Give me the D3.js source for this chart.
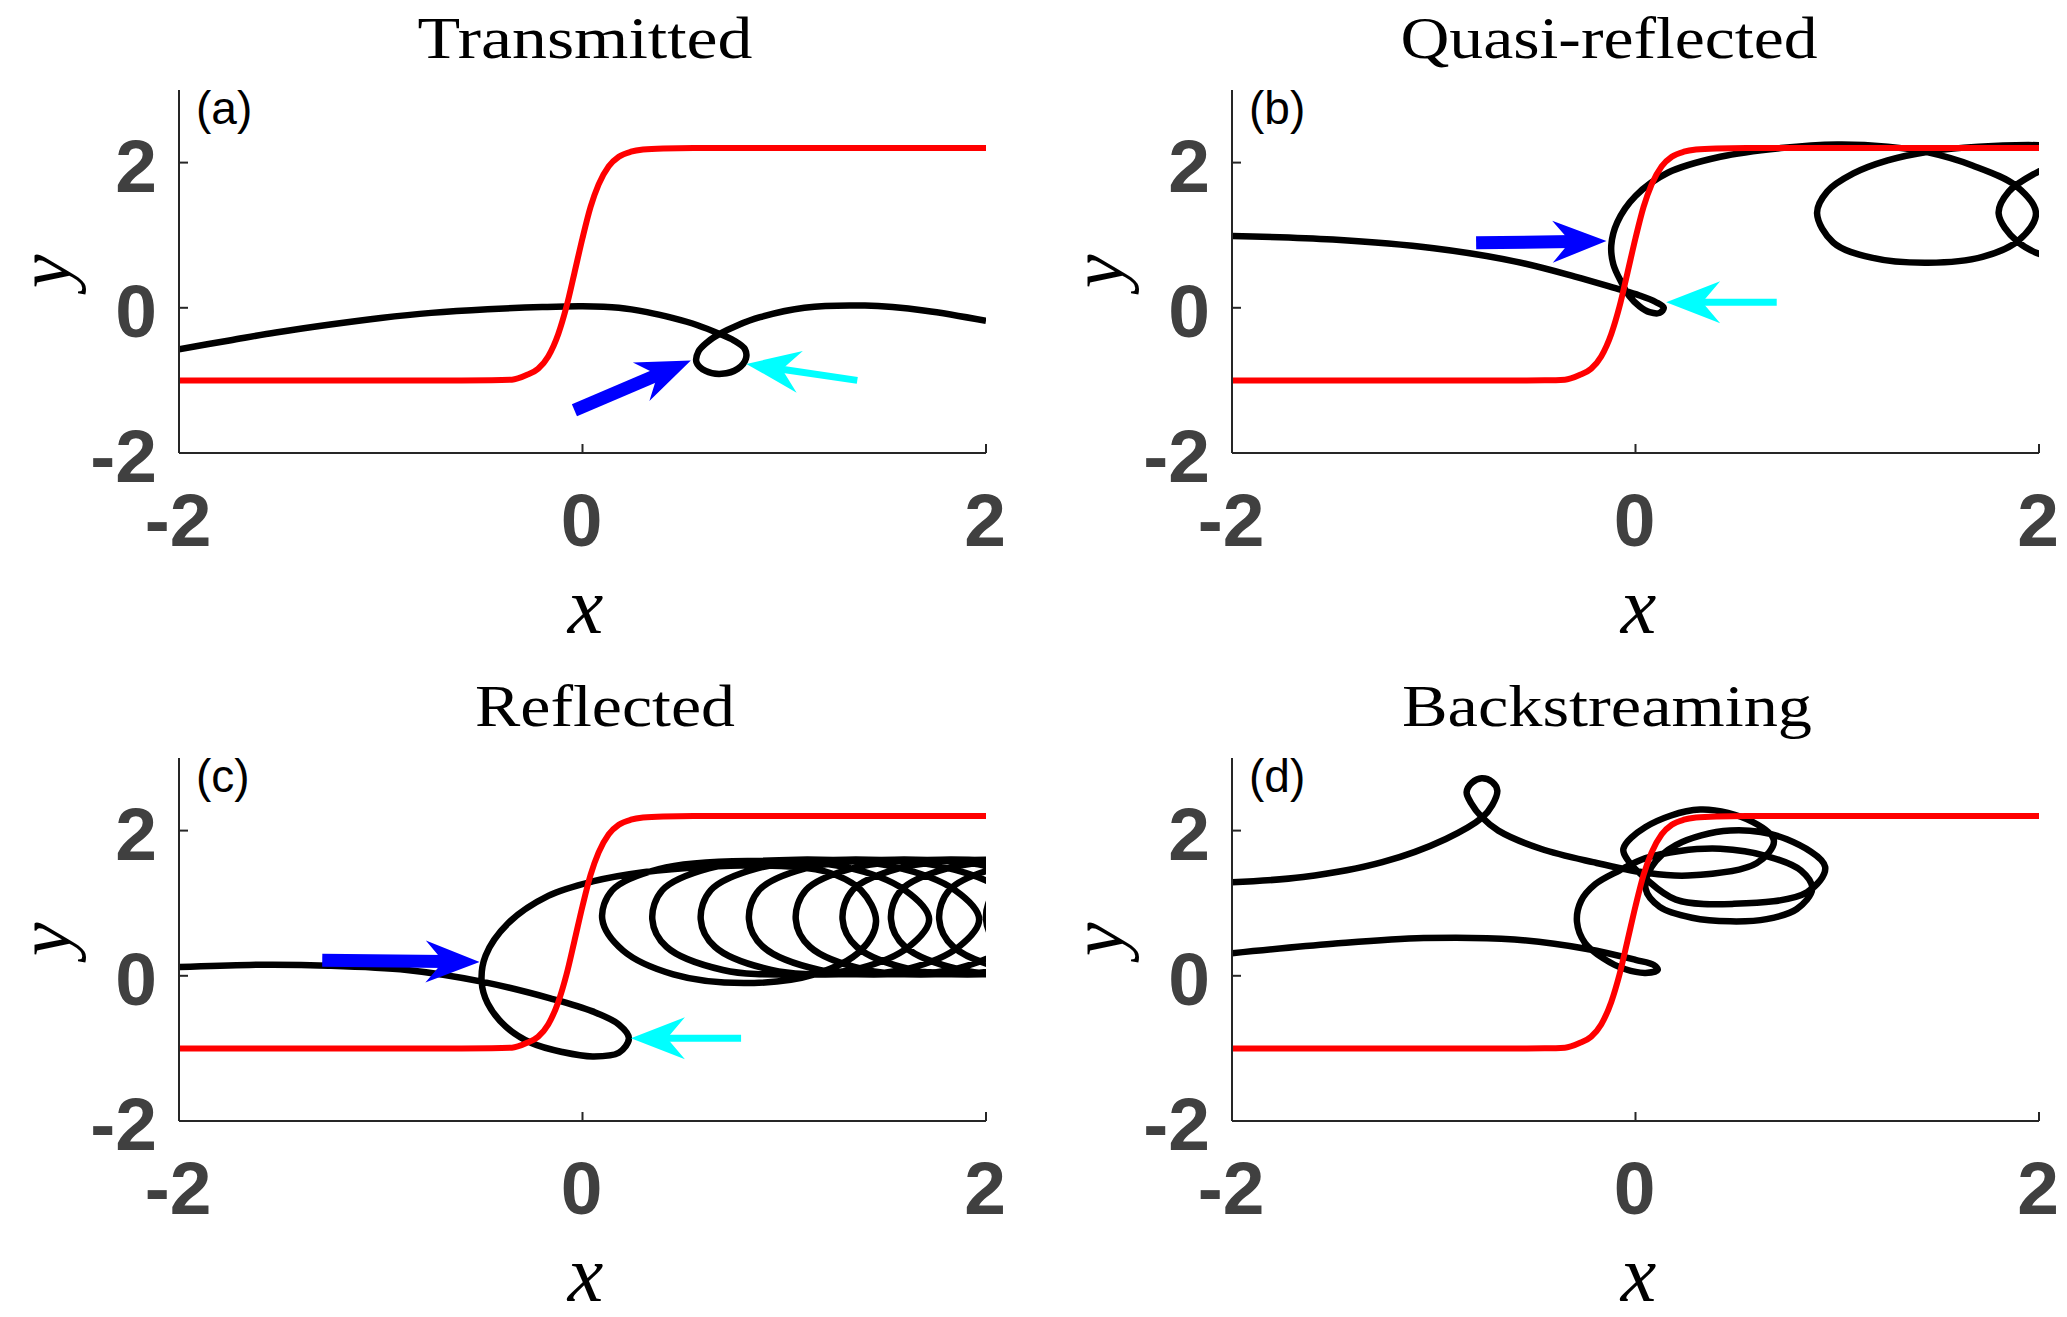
<!DOCTYPE html>
<html>
<head>
<meta charset="utf-8">
<script src="https://cdn.jsdelivr.net/npm/d3@7.9.0/dist/d3.min.js"></script>
<style>
  body { margin: 0; background: #fff; }
</style>
</head>
<body>
<svg id="fig" width="2067" height="1317"></svg>
<script>
const tickValues = [-2, 0, 2];
const titles = ['Transmitted', 'Quasi-reflected', 'Reflected', 'Backstreaming'];
const tags = ['(a)', '(b)', '(c)', '(d)'];

// shock profile (red), same in every panel
const shockX = [-2, -0.6, -0.45, -0.35, -0.28, -0.22, -0.17, -0.12, -0.08, -0.04, 0, 0.04, 0.08, 0.13, 0.18, 0.24, 0.3, 0.4, 0.55, 2];
const shockY = [-1, -1, -0.998, -0.99, -0.93, -0.84, -0.67, -0.36, 0.01, 0.48, 0.96, 1.39, 1.70, 1.95, 2.08, 2.15, 2.18, 2.195, 2.2, 2.2];

// particle trajectories [x, y]
const trajA = [[-2.0,-0.57],[-1.75,-0.45],[-1.52,-0.34],[-1.25,-0.23],[-1.0,-0.14],[-0.75,-0.07],[-0.47,-0.02],[-0.2,0.01],[0.0,0.02],[0.18,0.0],[0.32,-0.06],[0.445,-0.14],[0.57,-0.24],[0.68,-0.36],[0.75,-0.45],[0.805,-0.57],[0.81,-0.7],[0.77,-0.84],[0.69,-0.91],[0.61,-0.87],[0.565,-0.75],[0.575,-0.6],[0.62,-0.47],[0.68,-0.36],[0.77,-0.24],[0.88,-0.13],[1.1,0.0],[1.4,0.03],[1.7,-0.04],[2.0,-0.18]];

const trajB = [[-2.0,0.99],[-1.5,0.94],[-1.0,0.82],[-0.6,0.64],[-0.3,0.43],[-0.1,0.27],[0.02,0.17],[0.1,0.08],[0.14,0.0],[0.12,-0.07],[0.07,-0.06],[0.02,0.02],[-0.03,0.16],[-0.07,0.35],[-0.11,0.6],[-0.12,0.86],[-0.09,1.18],[0.0,1.54],[0.16,1.86],[0.42,2.08],[0.72,2.2],[1.0,2.25],[1.25,2.22],[1.45,2.14],[1.67,1.96],[1.89,1.67],[1.985,1.3],[1.9,0.93],[1.72,0.7],[1.45,0.62],[1.17,0.69],[0.98,0.9],[0.9,1.3],[0.95,1.6],[1.08,1.85],[1.25,2.03],[1.45,2.15],[1.7,2.22],[2.0,2.24],[2.3,2.2],[2.55,2.0],[2.75,1.65],[2.85,1.3],[2.8,0.95],[2.65,0.72],[2.35,0.62],[2.07,0.68],[1.89,0.92],[1.8,1.3],[1.85,1.6],[1.98,1.85],[2.15,2.05],[2.35,2.15]];

const trajC = [[-2.0,0.12],[-1.65,0.15],[-1.26,0.14],[-0.87,0.08],[-0.5,-0.08],[-0.16,-0.31],[0.05,-0.49],[0.18,-0.67],[0.23,-0.86],[0.18,-1.06],[0.05,-1.11],[-0.1,-1.05],[-0.25,-0.93],[-0.38,-0.7],[-0.47,-0.38],[-0.5,-0.08],[-0.48,0.28],[-0.37,0.72],[-0.17,1.1],[0.05,1.3],[0.31,1.43],[0.6,1.5],[0.9,1.52],[1.2,1.44],[1.38,1.18],[1.455,0.75],[1.38,0.35],[1.15,0.02],[0.8,-0.1],[0.45,0.02],[0.2,0.35],[0.098,0.78],
  [0.148,1.18],[0.378,1.47],[0.818,1.58],[1.298,1.5],[1.598,1.18],[1.718,0.78],[1.618,0.4],[1.368,0.1],[1.028,0.02],[0.696,0.08],[0.416,0.4],[0.346,0.78],
  [0.396,1.18],[0.626,1.48],[1.066,1.6],[1.546,1.5],[1.846,1.18],[1.966,0.78],[1.866,0.4],[1.616,0.1],[1.276,0.02],[0.936,0.08],[0.656,0.4],[0.586,0.78],
  [0.636,1.18],[0.866,1.48],[1.306,1.6],[1.786,1.5],[2.086,1.18],[2.206,0.78],[2.106,0.4],[1.856,0.1],[1.516,0.02],[1.175,0.08],[0.895,0.4],[0.825,0.78],
  [0.875,1.18],[1.105,1.48],[1.545,1.6],[2.025,1.5],[2.325,1.18],[2.445,0.78],[2.345,0.4],[2.095,0.1],[1.755,0.02],[1.407,0.08],[1.127,0.4],[1.057,0.78],
  [1.107,1.18],[1.337,1.48],[1.777,1.6],[2.257,1.5],[2.557,1.18],[2.677,0.78],[2.577,0.4],[2.327,0.1],[1.987,0.02],[1.639,0.08],[1.359,0.4],[1.289,0.78],
  [1.339,1.18],[1.569,1.48],[2.009,1.6],[2.489,1.5],[2.789,1.18],[2.909,0.78],[2.809,0.4],[2.559,0.1],[2.219,0.02],[1.879,0.08],[1.599,0.4],[1.529,0.78],
  [1.579,1.18],[1.809,1.48],[2.249,1.6],[2.729,1.5],[3.029,1.18],[3.149,0.78],[3.049,0.4],[2.799,0.1],[2.459,0.02],[2.118,0.08],[1.838,0.4],[1.768,0.78],
  [1.818,1.18],[2.048,1.48],[2.488,1.6],[2.968,1.5],[3.268,1.18],[3.388,0.78],[3.288,0.4],[3.038,0.1],[2.698,0.02],[2.35,0.08],[2.07,0.4],[2.0,0.78],
  [2.05,1.18],[2.28,1.48],[2.7,1.6]];

const trajD = [[-2.0,0.31],[-1.5,0.44],[-1.05,0.52],[-0.6,0.5],[-0.24,0.37],[0.0,0.22],[0.09,0.15],[0.11,0.08],[0.05,0.04],[-0.05,0.09],[-0.16,0.24],[-0.25,0.45],[-0.29,0.74],[-0.27,1.03],[-0.2,1.26],[-0.08,1.45],[0.05,1.62],[0.22,1.72],[0.42,1.75],[0.65,1.65],[0.82,1.45],[0.876,1.2],[0.8,0.92],[0.65,0.78],[0.47,0.75],[0.28,0.8],[0.12,0.95],[0.05,1.2],[0.08,1.5],[0.2,1.8],[0.47,2.0],[0.75,1.88],[0.94,1.5],[0.85,1.15],[0.48,0.99],[0.2,1.05],[0.05,1.34],[-0.04,1.6],[-0.06,1.75],[0.05,2.05],[0.32,2.29],[0.58,2.12],[0.686,1.86],[0.6,1.55],[0.26,1.38],[0.05,1.42],[-0.21,1.565],[-0.47,1.75],[-0.68,2.0],[-0.76,2.18],[-0.815,2.38],[-0.837,2.53],[-0.81,2.66],[-0.763,2.72],[-0.71,2.67],[-0.685,2.55],[-0.71,2.35],[-0.76,2.18],[-0.94,1.885],[-1.255,1.565],[-1.647,1.36],[-2.0,1.29]];

// annotation arrows: [tailX, tailY, tipX, tipY] in data units, null = none
const blueArrows = [[-0.04,-1.41,0.537,-0.727], [-0.79,0.895,-0.144,0.92], [-1.29,0.215,-0.51,0.19], null];
const cyanArrows = [[1.362,-1.0,0.812,-0.773], [0.70,0.077,0.152,0.077], [0.786,-0.86,0.24,-0.86], null];

const trajs = [trajA, trajB, trajC, trajD];

const panels = [
  { left: 179, top: 90, titleX: 585, titleW: 335 },
  { left: 1232, top: 90, titleX: 1609, titleW: 417 },
  { left: 179, top: 758, titleX: 605, titleW: 260 },
  { left: 1232, top: 758, titleX: 1607, titleW: 410 }
];
const W = 807, H = 363;

const svg = d3.select('#fig');
svg.append('rect').attr('width', 2067).attr('height', 1317).attr('fill', '#fff');

const shockLine = shockX.map((v, i) => [v, shockY[i]]);

function drawArrow(g, x, y, d, color, shaftW, headL, headW) {
  const x0 = x(d[0]), y0 = y(d[1]), x1 = x(d[2]), y1 = y(d[3]);
  const ang = Math.atan2(y1 - y0, x1 - x0);
  const ux = Math.cos(ang), uy = Math.sin(ang);
  const px = -uy, py = ux;
  const notch = headL * 0.67;
  g.append('line')
    .attr('x1', x0).attr('y1', y0)
    .attr('x2', x1 - ux * (notch - 2)).attr('y2', y1 - uy * (notch - 2))
    .attr('stroke', color).attr('stroke-width', shaftW);
  const pts = [
    [x1, y1],
    [x1 - ux * headL + px * headW / 2, y1 - uy * headL + py * headW / 2],
    [x1 - ux * notch, y1 - uy * notch],
    [x1 - ux * headL - px * headW / 2, y1 - uy * headL - py * headW / 2]
  ];
  g.append('polygon').attr('points', pts.map(p => p.join(',')).join(' ')).attr('fill', color);
}

panels.forEach((p, i) => {
  const x = d3.scaleLinear().domain([-2, 2]).range([p.left, p.left + W]);
  const y = d3.scaleLinear().domain([-2, 3]).range([p.top + H, p.top]);
  const g = svg.append('g');

  g.append('clipPath').attr('id', 'clip' + i)
    .append('rect').attr('x', p.left).attr('y', p.top).attr('width', W).attr('height', H);

  const plot = g.append('g').attr('clip-path', `url(#clip${i})`);

  const line = d3.line().x(d => x(d[0])).y(d => y(d[1]));

  plot.append('path')
    .attr('d', line.curve(d3.curveCatmullRom.alpha(0.5))(trajs[i]))
    .attr('fill', 'none').attr('stroke', '#000').attr('stroke-width', 6.5)
    .attr('stroke-linejoin', 'round');

  plot.append('path')
    .attr('d', line.curve(d3.curveMonotoneX)(shockLine))
    .attr('fill', 'none').attr('stroke', '#ff0000').attr('stroke-width', 6);

  // axes
  const axisColor = '#262626';
  g.append('line').attr('x1', p.left).attr('x2', p.left).attr('y1', p.top).attr('y2', p.top + H)
    .attr('stroke', axisColor).attr('stroke-width', 2);
  g.append('line').attr('x1', p.left).attr('x2', p.left + W).attr('y1', p.top + H).attr('y2', p.top + H)
    .attr('stroke', axisColor).attr('stroke-width', 2);

  tickValues.forEach(v => {
    g.append('line').attr('x1', x(v)).attr('x2', x(v)).attr('y1', p.top + H).attr('y2', p.top + H - 9)
      .attr('stroke', axisColor).attr('stroke-width', 2);
    g.append('line').attr('x1', p.left).attr('x2', p.left + 9).attr('y1', y(v)).attr('y2', y(v))
      .attr('stroke', axisColor).attr('stroke-width', 2);

    g.append('text')
      .attr('x', x(v) - 1).attr('y', p.top + H + 93)
      .attr('text-anchor', 'middle')
      .attr('font-family', 'Liberation Sans, Arial, sans-serif')
      .attr('font-weight', 'bold').attr('font-size', 75).attr('fill', '#404040')
      .text(v);
    g.append('text')
      .attr('x', p.left - 22).attr('y', y(v) + 29)
      .attr('text-anchor', 'end')
      .attr('font-family', 'Liberation Sans, Arial, sans-serif')
      .attr('font-weight', 'bold').attr('font-size', 75).attr('fill', '#404040')
      .text(v);
  });

  // axis labels
  g.append('text')
    .attr('x', p.left + W / 2 + 3).attr('y', p.top + H + 180)
    .attr('text-anchor', 'middle')
    .attr('font-family', 'Liberation Serif, serif').attr('font-style', 'italic')
    .attr('font-size', 80).attr('fill', '#000')
    .text('x');
  g.append('text')
    .attr('transform', `translate(${p.left - 109},${p.top + H / 2}) rotate(-90)`)
    .attr('text-anchor', 'middle')
    .attr('font-family', 'Liberation Serif, serif').attr('font-style', 'italic')
    .attr('font-size', 76).attr('fill', '#000')
    .text('y');

  // title and tag
  g.append('text')
    .attr('x', p.titleX).attr('y', p.top - 32)
    .attr('text-anchor', 'middle')
    .attr('font-family', 'Liberation Serif, serif')
    .attr('font-size', 60).attr('fill', '#000')
    .attr('textLength', p.titleW).attr('lengthAdjust', 'spacingAndGlyphs')
    .text(titles[i]);
  g.append('text')
    .attr('x', p.left + 17).attr('y', p.top + 34)
    .attr('font-family', 'Liberation Sans, Arial, sans-serif')
    .attr('font-size', 46).attr('fill', '#000')
    .text(tags[i]);

  if (blueArrows[i]) drawArrow(g, x, y, blueArrows[i], '#0000ff', 13, 54, 42);
  if (cyanArrows[i]) drawArrow(g, x, y, cyanArrows[i], '#00ffff', 7, 54, 42);
});
</script>
</body>
</html>
